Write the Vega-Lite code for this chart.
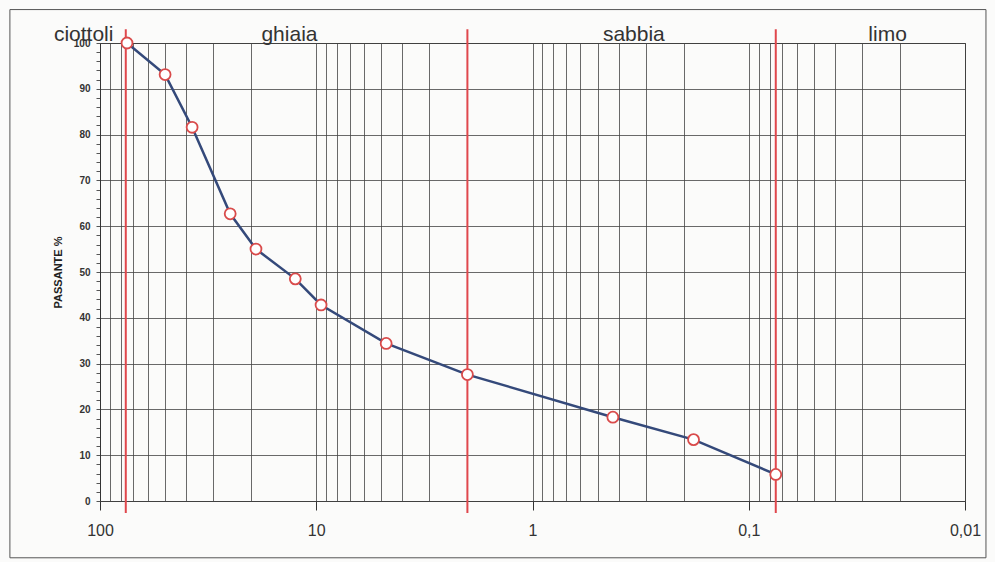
{
  "$schema": "https://vega.github.io/schema/vega-lite/v6.json",
  "width": 865,
  "height": 458,
  "autosize": "none",
  "padding": {"left": 100, "top": 43, "right": 30, "bottom": 61},
  "background": "#fbfbfa",
  "config": {
    "view": {"stroke": "#333", "strokeWidth": 1},
    "font": "Liberation Sans"
  },
  "datasets": {
    "curve": [
      {"d": 75, "p": 100},
      {"d": 50, "p": 93.1},
      {"d": 37.5, "p": 81.6},
      {"d": 25, "p": 62.7},
      {"d": 19, "p": 55.0},
      {"d": 12.5, "p": 48.5},
      {"d": 9.5, "p": 42.8},
      {"d": 4.75, "p": 34.4},
      {"d": 2, "p": 27.6},
      {"d": 0.425, "p": 18.3},
      {"d": 0.18, "p": 13.4},
      {"d": 0.075, "p": 5.8}
    ],
    "bounds": [
      {"d": 76},
      {"d": 2},
      {"d": 0.075}
    ],
    "zones": [
      {"zone": "ciottoli", "d": 119},
      {"zone": "ghiaia", "d": 13.3},
      {"zone": "sabbia", "d": 0.34},
      {"zone": "limo", "d": 0.0228}
    ]
  },
  "layer": [
    {
      "data": {"values": [{"frame": "outer"}]},
      "mark": {"type": "rect", "fill": null, "filled": false, "stroke": "#555", "strokeWidth": 1, "clip": false},
      "encoding": {
        "x": {"datum": 261, "type": "quantitative", "scale": {"type": "log", "domain": [0.01, 100], "reverse": true}},
        "x2": {"datum": 0.008},
        "y": {"datum": 107.3, "type": "quantitative", "scale": {"domain": [0, 100]}},
        "y2": {"datum": -12.4}
      }
    },
    {
      "data": {"name": "curve"},
      "mark": {"type": "line", "color": "#34497a", "strokeWidth": 2.5},
      "encoding": {
        "x": {
          "field": "d", "type": "quantitative",
          "scale": {"type": "log", "domain": [0.01, 100], "reverse": true},
          "axis": {
            "title": null,
            "tickCount": 500,
            "values": [100, 90, 80, 70, 60, 50, 40, 30, 20, 10, 9, 8, 7, 6, 5, 4, 3, 2, 1, 0.9, 0.8, 0.7, 0.6, 0.5, 0.4, 0.3, 0.2, 0.1, 0.09, 0.08, 0.07, 0.06, 0.05, 0.04, 0.03, 0.02, 0.01],
            "labelExpr": "indexof([100, 10, 1, 0.1, 0.01], datum.value) >= 0 ? replace(toString(datum.value), '.', ',') : ''",
            "labelOverlap": false,
            "labelFlush": false,
            "labelBound": false,
            "labelFontSize": 16,
            "labelColor": "#333",
            "labelPadding": 12,
            "tickSize": 9,
            "tickColor": "#333",
            "tickOpacity": {"condition": {"test": "indexof([100, 10, 1, 0.1, 0.01], datum.value) >= 0", "value": 1}, "value": 0},
            "grid": true,
            "gridColor": "#444",
            "gridWidth": 0.8,
            "domain": false
          }
        },
        "y": {
          "field": "p", "type": "quantitative",
          "scale": {"domain": [0, 100]},
          "axis": {
            "title": "PASSANTE %",
            "titleFontSize": 11,
            "titleFontWeight": "bold",
            "titleColor": "#222",
            "titlePadding": 10,
            "tickCount": 500,
            "values": [0, 2, 4, 6, 8, 10, 12, 14, 16, 18, 20, 22, 24, 26, 28, 30, 32, 34, 36, 38, 40, 42, 44, 46, 48, 50, 52, 54, 56, 58, 60, 62, 64, 66, 68, 70, 72, 74, 76, 78, 80, 82, 84, 86, 88, 90, 92, 94, 96, 98, 100],
            "labelExpr": "datum.value % 10 == 0 ? datum.value : ''",
            "labelOverlap": false,
            "labelFontSize": 10,
            "labelFontWeight": "bold",
            "labelColor": "#333",
            "labelPadding": 6,
            "tickSize": 4,
            "tickColor": "#555",
            "grid": true,
            "gridColor": "#444",
            "gridWidth": 0.8,
            "gridOpacity": {"condition": {"test": "datum.value % 10 == 0", "value": 1}, "value": 0},
            "domain": true,
            "domainColor": "#333"
          }
        }
      }
    },
    {
      "data": {"name": "bounds"},
      "mark": {"type": "rule", "color": "#e0474c", "strokeWidth": 2, "clip": false},
      "encoding": {
        "x": {"field": "d", "type": "quantitative"},
        "y": {"datum": -2.6},
        "y2": {"datum": 103}
      }
    },
    {
      "data": {"name": "curve"},
      "mark": {"type": "point", "shape": "circle", "size": 120, "filled": false, "stroke": "#d94b4b", "strokeWidth": 1.8, "fill": "#ffffff", "fillOpacity": 1, "opacity": 1},
      "encoding": {
        "x": {"field": "d", "type": "quantitative"},
        "y": {"field": "p", "type": "quantitative"}
      }
    },
    {
      "data": {"name": "zones"},
      "mark": {"type": "text", "fontSize": 21, "color": "#333", "baseline": "alphabetic", "align": "center", "dy": -2, "clip": false},
      "encoding": {
        "x": {"field": "d", "type": "quantitative"},
        "y": {"datum": 100},
        "text": {"field": "zone"}
      }
    }
  ]
}
